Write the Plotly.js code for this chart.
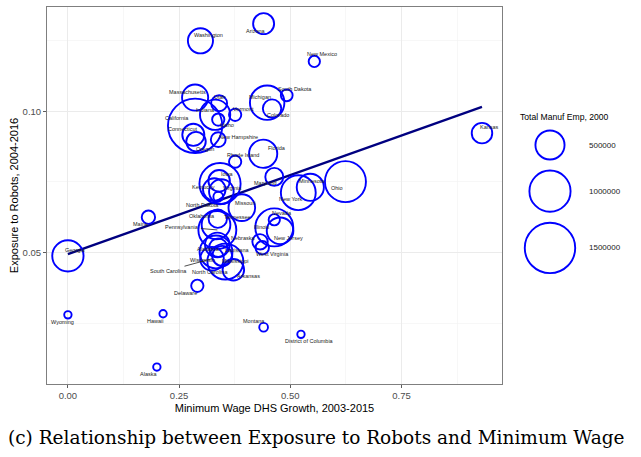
<!DOCTYPE html>
<html>
<head>
<meta charset="utf-8">
<script src="https://cdn.plot.ly/plotly-3.0.1.min.js"></script>
<style>
  html, body { margin: 0; padding: 0; background: #fff; }
  #chart { width: 641px; height: 457px; }
</style>
</head>
<body>
<div id="chart"></div>
<script>
// ---------------- DATA ----------------
const states = [
  "Washington","Arizona","New Mexico","South Dakota","Michigan","Colorado",
  "Massachusetts","California","Utah","Indiana","Vermont","Idaho",
  "Connecticut","Oregon","New Hampshire","Florida","Rhode Island","Maryland",
  "Minnesota","New York","Ohio","Kansas","Nevada","Illinois",
  "New Jersey","Nebraska","West Virginia","Georgia","Maine","Wyoming",
  "Hawaii","Alaska","Montana","District of Columbia","Delaware","Texas",
  "Iowa","Kentucky","Virginia","North Dakota","Missouri","Oklahoma",
  "Tennessee","Pennsylvania","Alabama","Louisiana","Wisconsin","Mississippi",
  "South Carolina","North Carolina","Arkansas"
];
const minWageGrowth = [
  0.298, 0.440, 0.554, 0.492, 0.448, 0.459,
  0.286, 0.286, 0.340, 0.331, 0.376, 0.338,
  0.282, 0.288, 0.338, 0.439, 0.376, 0.464,
  0.545, 0.518, 0.624, 0.931, 0.464, 0.464,
  0.477, 0.432, 0.437, 0.000, 0.181, 0.000,
  0.214, 0.200, 0.440, 0.524, 0.291, 0.342,
  0.340, 0.329, 0.345, 0.338, 0.391, 0.337,
  0.333, 0.336, 0.336, 0.338, 0.333, 0.347,
  0.324, 0.354, 0.372
];
const robotExposure = [
  0.1250, 0.1311, 0.1177, 0.1057, 0.1031, 0.1010,
  0.1049, 0.0949, 0.1029, 0.0988, 0.0988, 0.0971,
  0.0917, 0.0893, 0.0900, 0.0850, 0.0822, 0.0768,
  0.0731, 0.0712, 0.0751, 0.0923, 0.0616, 0.0589,
  0.0577, 0.0538, 0.0517, 0.0488, 0.0625, 0.0279,
  0.0283, 0.0094, 0.0235, 0.0210, 0.0382, 0.0744,
  0.0754, 0.0723, 0.0716, 0.0698, 0.0659, 0.0620,
  0.0598, 0.0580, 0.0527, 0.0517, 0.0502, 0.0488,
  0.0478, 0.0468, 0.0439
];
const manufEmp2000 = [
  372000, 260000, 75000, 82000, 700000, 200000,
  403000, 1740000, 149000, 540000, 89000, 89000,
  287000, 224000, 130000, 469000, 89000, 190000,
  435000, 717000, 992000, 248000, 75000, 849000,
  419000, 140000, 105000, 577000, 105000, 14000,
  18000, 15000, 45000, 4000, 89000, 1000000,
  273000, 300000, 357000, 56000, 419000, 200000,
  486000, 849000, 357000, 200000, 635000, 236000,
  328000, 760000, 273000
];
// fitted line
const fitIntercept = 0.0494;
const fitSlope = 0.0561;

const legendEmp = [500000, 1000000, 1500000];
const legendLabels = ["500000", "1000000", "1500000"];

const xTickVals = [0, 0.25, 0.5, 0.75];
const xTickText = ["0.00", "0.25", "0.50", "0.75"];
const yTickVals = [0.05, 0.10];
const yTickText = ["0.05", "0.10"];

// ---------------- LAYOUT / STYLE ----------------
const SIZEREF = 1180;
const SIZEMIN = 3.7;
const CIRCLE_COLOR = "#0000ff";
const CIRCLE_WIDTH = 1.9;
const FONT = "Liberation Sans, Arial, Helvetica, sans-serif";

// label placement (pixel offsets of each label from its point: [dx, dy], dy down)
const labelOffsets = {
  "Washington":[8,-6], "Arizona":[-8,7], "New Mexico":[8,-7], "South Dakota":[8,-6],
  "Michigan":[-7,-6], "Colorado":[6,6], "Massachusetts":[-8,-6], "California":[-18,-8],
  "Utah":[1,-6], "Indiana":[-10,-5], "Vermont":[8,-6], "Idaho":[9,5],
  "Connecticut":[-10,-6], "Oregon":[9,7], "New Hampshire":[20,-3], "Florida":[14,-6],
  "Rhode Island":[8,-7], "Maryland":[-9,6], "Minnesota":[2,-6], "New York":[-8,6],
  "Ohio":[-8,6], "Kansas":[8,-6], "Nevada":[8,-7], "Illinois":[-12,0],
  "New Jersey":[8,7], "Nebraska":[-17,-4], "West Virginia":[10,6], "Georgia":[8,-6],
  "Maine":[-8,7], "Wyoming":[-5,7], "Hawaii":[-8,7], "Alaska":[-8,7],
  "Montana":[-10,-6], "District of Columbia":[9,7], "Delaware":[-12,7],
  "Iowa":[8,-7], "Kentucky":[-11,-3], "Virginia":[11,-4], "North Dakota":[-16,8],
  "Missouri":[3,-5], "Oklahoma":[-16,-3], "Tennessee":[21,-8],
  "Alabama":[-9,4], "Louisiana":[19,2], "Wisconsin":[-14,8], "Mississippi":[13,5],
  "North Carolina":[-15,10], "Arkansas":[15,6]
};
const labelSegments = { "Pennsylvania":[-35,-3], "South Carolina":[-44,12] };

const annotations = [];
states.forEach((s, i) => {
  if (labelSegments[s]) {
    const o = labelSegments[s];
    annotations.push({
      x: minWageGrowth[i], y: robotExposure[i], xref: "x", yref: "y",
      text: s, showarrow: true, arrowhead: 0, arrowwidth: 0.8, arrowcolor: "#222",
      ax: o[0], ay: o[1], standoff: 0, startstandoff: 0,
      font: {family: FONT, size: 5.5, color: "#222"}
    });
  } else if (labelOffsets[s]) {
    const o = labelOffsets[s];
    annotations.push({
      x: minWageGrowth[i], y: robotExposure[i], xref: "x", yref: "y",
      text: s, showarrow: false, xshift: o[0], yshift: -o[1],
      font: {family: FONT, size: 5.5, color: "#222"}
    });
  }
});

// legend keys: page-pixel axes (x2 / y2)
const diam = v => 2 * Math.sqrt(v / (2 * SIZEREF));
const legendX = legendEmp.map(() => 550);
const legendY = [];
let c = 145;
legendEmp.forEach((v, i) => {
  if (i > 0) c += (diam(legendEmp[i - 1]) + diam(v)) / 2 + 11;
  legendY.push(c);
});
legendLabels.forEach((t, i) => {
  annotations.push({
    x: 587, y: legendY[i], xref: "x2", yref: "y2", text: t, showarrow: false,
    xanchor: "left", yanchor: "middle",
    font: {family: FONT, size: 8, color: "#1a1a1a"}
  });
});
annotations.push({
  x: 518, y: 117, xref: "x2", yref: "y2", text: "Total Manuf Emp, 2000",
  showarrow: false, xanchor: "left", yanchor: "middle",
  font: {family: FONT, size: 8.6, color: "#000"}
});
// caption
annotations.push({
  x: 0.4545, y: -0.143, xref: "paper", yref: "paper",
  text: "(c) Relationship between Exposure to Robots and Minimum Wage",
  showarrow: false, xanchor: "center", yanchor: "middle",
  font: {family: "DejaVu Serif, serif", size: 18.5, color: "#000"}
});

const xMin = Math.min(...minWageGrowth), xMax = Math.max(...minWageGrowth);

const traces = [
  {
    x: [xMin, xMax],
    y: [fitIntercept + fitSlope * xMin, fitIntercept + fitSlope * xMax],
    mode: "lines", type: "scatter", hoverinfo: "skip",
    line: {color: "#000080", width: 2.3}
  },
  {
    x: minWageGrowth, y: robotExposure, text: states,
    mode: "markers", type: "scatter",
    marker: {
      size: manufEmp2000, sizemode: "area", sizeref: SIZEREF, sizemin: SIZEMIN,
      color: "rgba(0,0,0,0)", opacity: 1, line: {color: CIRCLE_COLOR, width: CIRCLE_WIDTH}
    }
  },
  {
    x: legendX, y: legendY, xaxis: "x2", yaxis: "y2",
    mode: "markers", type: "scatter", hoverinfo: "skip",
    marker: {
      size: legendEmp, sizemode: "area", sizeref: SIZEREF, sizemin: SIZEMIN,
      color: "rgba(0,0,0,0)", opacity: 1, line: {color: CIRCLE_COLOR, width: CIRCLE_WIDTH}
    }
  }
];

const layout = {
  width: 641, height: 457,
  margin: {l: 47, r: 0, t: 7, b: 73},
  paper_bgcolor: "#fff", plot_bgcolor: "#fff",
  showlegend: false,
  font: {family: FONT},
  xaxis: {
    domain: [0, 0.766], range: [-0.047, 0.976],
    tickvals: xTickVals, ticktext: xTickText,
    tickfont: {size: 9.5, color: "#4d4d4d"},
    ticks: "outside", ticklen: 3, tickcolor: "#333", tickwidth: 0.8,
    showgrid: true, gridcolor: "#ebebeb", gridwidth: 1,
    minor: {dtick: 0.125, tick0: 0, showgrid: true, gridcolor: "#f2f2f2", gridwidth: 0.6},
    zeroline: false, showline: true, mirror: true, linecolor: "#7f7f7f", linewidth: 1,
    title: {text: "Minimum Wage DHS Growth, 2003-2015", font: {size: 11, color: "#000"}, standoff: 3}
  },
  yaxis: {
    range: [0.0034, 0.137],
    tickvals: yTickVals, ticktext: yTickText,
    tickfont: {size: 9.5, color: "#4d4d4d"},
    ticks: "outside", ticklen: 3, tickcolor: "#333", tickwidth: 0.8,
    showgrid: true, gridcolor: "#ebebeb", gridwidth: 1,
    minor: {dtick: 0.025, tick0: 0, showgrid: true, gridcolor: "#f2f2f2", gridwidth: 0.6},
    zeroline: false, showline: true, mirror: true, linecolor: "#7f7f7f", linewidth: 1,
    title: {text: "Exposure to Robots, 2004-2016", font: {size: 11, color: "#000"}, standoff: 1}
  },
  xaxis2: {domain: [0.77, 1], range: [504.4, 641], anchor: "y2", visible: false, fixedrange: true},
  yaxis2: {domain: [0, 1], range: [384, 7], anchor: "x2", visible: false, fixedrange: true},
  annotations: annotations
};

Plotly.newPlot("chart", traces, layout, {displayModeBar: false, staticPlot: true});
</script>
</body>
</html>
